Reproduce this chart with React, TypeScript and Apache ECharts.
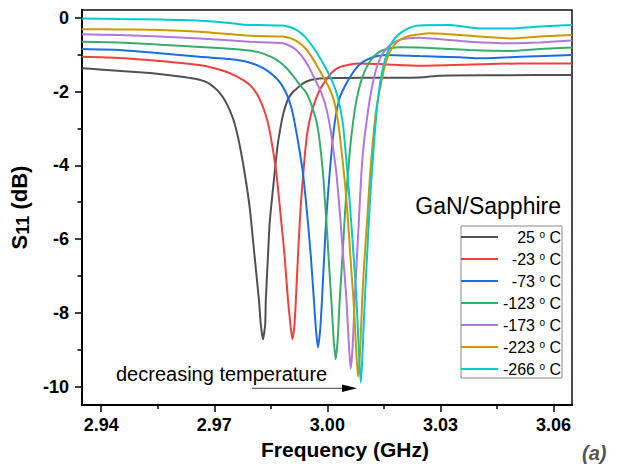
import React, { useEffect, useRef } from "react";
import * as echarts from "echarts";

const FONT = "'Liberation Sans', Arial, Helvetica, sans-serif";

const seriesNames = ["25 ° C", "-23 ° C", "-73 ° C", "-123 ° C", "-173 ° C", "-223 ° C", "-266 ° C"];
const seriesColors = ["#515151", "#F14040", "#1A6FDF", "#37AD6B", "#B177DE", "#CC9900", "#00CBCC"];

const xTickValues = [2.94, 2.97, 3.0, 3.03, 3.06];
const xMinorTickValues = [2.955, 2.985, 3.015, 3.045];
const yTickValues = [0, -2, -4, -6, -8, -10];
const yMinorTickValues = [-1, -3, -5, -7, -9];

const X_MIN = 2.9349;
const X_MAX = 3.0649;
const Y_MIN = -10.5;
const Y_MAX = 0.21;

// [frequency (GHz), S11 (dB)]
const curve25 = [
  [2.9348, -1.37], [2.93955, -1.4], [2.95283, -1.5], [2.96079, -1.59], [2.96345, -1.63], [2.9661, -1.68],
  [2.96822, -1.76], [2.97008, -1.9], [2.97141, -2.04], [2.97274, -2.23], [2.97407, -2.5], [2.97539, -2.87],
  [2.97672, -3.45], [2.97805, -4.21], [2.97937, -5.13], [2.9807, -6.48], [2.98184, -7.65], [2.98235, -8.33],
  [2.9829, -8.72], [2.98349, -8.33], [2.98367, -7.65], [2.98423, -6.48], [2.98469, -5.56], [2.98601, -4.21],
  [2.98681, -3.45], [2.98779, -2.85], [2.98841, -2.56], [2.9892, -2.3], [2.99, -2.13], [2.99079, -2.02],
  [2.99177, -1.93], [2.99291, -1.83], [2.99424, -1.74], [2.99583, -1.68], [2.99796, -1.645], [3.00327, -1.635],
  [3.00858, -1.63], [3.02451, -1.62], [3.02982, -1.57], [3.04575, -1.56], [3.0649, -1.55],
];
const curveM23 = [
  [2.9348, -1.06], [2.94486, -1.09], [2.95548, -1.17], [2.9661, -1.28], [2.97008, -1.37], [2.97274, -1.45],
  [2.97539, -1.56], [2.97778, -1.7], [2.97937, -1.82], [2.98051, -1.95], [2.9815, -2.1], [2.98243, -2.3],
  [2.98336, -2.55], [2.98423, -2.85], [2.98535, -3.45], [2.98647, -4.21], [2.9878, -5.56], [2.98867, -6.48],
  [2.98954, -7.65], [2.99021, -8.33], [2.99071, -8.72], [2.99127, -8.33], [2.99164, -7.65], [2.99219, -6.48],
  [2.99291, -5.13], [2.99397, -3.78], [2.99477, -3.05], [2.99575, -2.58], [2.99689, -2.22], [2.99796, -1.96],
  [2.99902, -1.78], [3.00035, -1.58], [3.00168, -1.44], [3.00327, -1.34], [3.0054, -1.28], [3.00858, -1.24],
  [3.01469, -1.26], [3.02451, -1.3], [3.04044, -1.26], [3.05106, -1.24], [3.0649, -1.24],
];
const curveM73 = [
  [2.9348, -0.85], [2.94486, -0.875], [2.95548, -0.96], [2.9661, -1.06], [2.97406, -1.12], [2.97805, -1.18],
  [2.9807, -1.26], [2.98283, -1.36], [2.98468, -1.48], [2.98628, -1.62], [2.9876, -1.78], [2.98866, -1.96],
  [2.98959, -2.17], [2.99052, -2.47], [2.99132, -2.85], [2.99238, -3.45], [2.99352, -4.21], [2.99424, -4.9],
  [2.99485, -5.56], [2.99562, -6.48], [2.99642, -7.65], [2.99697, -8.46], [2.9975, -8.94], [2.99809, -8.46],
  [2.99857, -7.65], [2.99915, -6.48], [2.99963, -5.56], [3.00008, -4.9], [3.00061, -4.21], [3.00127, -3.45],
  [3.00194, -2.85], [3.0026, -2.45], [3.00327, -2.17], [3.00414, -1.96], [3.00504, -1.78], [3.00618, -1.58],
  [3.0077, -1.36], [3.00911, -1.22], [3.01123, -1.1], [3.01335, -1.04], [3.01566, -1.01], [3.0245, -1.04],
  [3.03512, -1.07], [3.04043, -1.1], [3.05105, -1.06], [3.0649, -1.01],
];
const curveM123 = [
  [2.9348, -0.65], [2.94486, -0.67], [2.95548, -0.73], [2.9661, -0.79], [2.97406, -0.84], [2.97937, -0.89],
  [2.98256, -0.96], [2.98521, -1.07], [2.98734, -1.2], [2.9892, -1.37], [2.99079, -1.56], [2.99212, -1.74],
  [2.99318, -1.88], [2.99398, -1.97], [2.9949, -2.14], [2.99583, -2.38], [2.99708, -2.8], [2.99796, -3.35],
  [2.99883, -4.21], [2.99928, -4.85], [2.99973, -5.5], [3.00021, -6.3], [3.00069, -7.1], [3.00114, -7.8],
  [3.00167, -8.73], [3.0022, -9.26], [3.00273, -8.73], [3.00327, -7.65], [3.00385, -6.7], [3.00433, -5.9],
  [3.00486, -5.0], [3.00547, -4.21], [3.00606, -3.5], [3.0068, -2.85], [3.00751, -2.35], [3.00831, -1.96],
  [3.00924, -1.63], [3.0103, -1.36], [3.01168, -1.13], [3.01309, -0.98], [3.01468, -0.88], [3.01707, -0.82],
  [3.01919, -0.8], [3.0245, -0.81], [3.03778, -0.875], [3.0484, -0.9], [3.05636, -0.85], [3.0649, -0.81],
];
const curveM173 = [
  [2.9348, -0.45], [2.94486, -0.47], [2.95548, -0.51], [2.9661, -0.56], [2.97937, -0.65], [2.98813, -0.69],
  [2.99, -0.76], [2.99159, -0.86], [2.99292, -1.0], [2.99411, -1.17], [2.99531, -1.38], [2.99637, -1.6],
  [2.99743, -1.82], [2.99836, -2.02], [2.99929, -2.3], [3.00008, -2.62], [3.00075, -2.98], [3.00154, -3.55],
  [3.00239, -4.21], [3.003, -4.9], [3.00353, -5.56], [3.00406, -6.3], [3.00459, -7.0], [3.00513, -7.75],
  [3.00566, -8.8], [3.00619, -9.52], [3.00672, -8.9], [3.00725, -7.65], [3.00778, -6.6], [3.00831, -5.6],
  [3.00902, -4.21], [3.00963, -3.45], [3.01035, -2.85], [3.01096, -2.4], [3.01168, -1.96], [3.01229, -1.66],
  [3.01309, -1.35], [3.01388, -1.13], [3.01476, -0.96], [3.01601, -0.8], [3.01741, -0.68], [3.01919, -0.6],
  [3.02097, -0.56], [3.0245, -0.54], [3.03778, -0.65], [3.0484, -0.69], [3.05636, -0.67], [3.0649, -0.62],
];
const curveM223 = [
  [2.9348, -0.31], [2.94486, -0.32], [2.95548, -0.33], [2.9661, -0.38], [2.97937, -0.49], [2.98813, -0.51],
  [2.99, -0.55], [2.99159, -0.62], [2.99292, -0.71], [2.99425, -0.84], [2.99557, -1.02], [2.9969, -1.24],
  [2.99822, -1.48], [2.99955, -1.72], [3.00061, -1.93], [3.00154, -2.18], [3.0022, -2.45], [3.00281, -2.8],
  [3.00353, -3.4], [3.0044, -4.21], [3.00499, -4.85], [3.00547, -5.5], [3.006, -6.3], [3.00653, -7.1],
  [3.00706, -7.85], [3.00759, -8.9], [3.00812, -9.73], [3.00865, -9.1], [3.00924, -7.65], [3.00969, -6.8],
  [3.01014, -6.1], [3.01056, -5.45], [3.01096, -4.8], [3.01149, -4.05], [3.0121, -3.32], [3.01282, -2.6],
  [3.01343, -2.2], [3.01388, -1.96], [3.01481, -1.5], [3.01561, -1.18], [3.01654, -0.93], [3.01787, -0.72],
  [3.01919, -0.6], [3.02185, -0.49], [3.0245, -0.45], [3.02716, -0.42], [3.04043, -0.51], [3.0484, -0.56],
  [3.05636, -0.51], [3.0649, -0.47],
];
const curveM266 = [
  [2.9348, -0.02], [2.94486, -0.035], [2.95548, -0.05], [2.9661, -0.08], [2.97406, -0.14], [2.97805, -0.19],
  [2.98203, -0.2], [2.98814, -0.21], [2.99, -0.25], [2.99159, -0.32], [2.99292, -0.41], [2.99425, -0.54],
  [2.99557, -0.71], [2.9969, -0.9], [2.99822, -1.12], [2.99955, -1.36], [3.00074, -1.6], [3.0018, -1.85],
  [3.00273, -2.15], [3.0034, -2.45], [3.00414, -2.9], [3.00472, -3.5], [3.00531, -4.21], [3.00592, -5.0],
  [3.00637, -5.6], [3.00685, -6.3], [3.00733, -7.0], [3.00778, -7.75], [3.00831, -8.95], [3.00884, -9.89],
  [3.00924, -9.3], [3.00964, -8.3], [3.01003, -7.45], [3.01043, -6.65], [3.01083, -5.85], [3.01123, -5.1],
  [3.01163, -4.45], [3.01202, -3.88], [3.01242, -3.32], [3.01301, -2.6], [3.01348, -2.15], [3.01388, -1.85],
  [3.01442, -1.52], [3.01508, -1.22], [3.01588, -0.96], [3.01681, -0.73], [3.01787, -0.56], [3.01919, -0.43],
  [3.02079, -0.32], [3.02272, -0.24], [3.0245, -0.21], [3.03247, -0.2], [3.04043, -0.29], [3.0484, -0.29],
  [3.05636, -0.24], [3.0649, -0.2],
];

const curves = [curve25, curveM23, curveM73, curveM123, curveM173, curveM223, curveM266];

export default function App() {
  const ref = useRef<HTMLDivElement>(null);

  useEffect(() => {
    if (!ref.current) return;
    const chart = echarts.init(ref.current, undefined, { renderer: "svg" });

    const series = curves.map((data, i) => ({
      name: seriesNames[i],
      type: "line",
      data,
      xAxisIndex: 0,
      yAxisIndex: 0,
      showSymbol: false,
      symbol: "none",
      smooth: 0.2,
      lineStyle: { color: seriesColors[i], width: 2 },
      itemStyle: { color: seriesColors[i] },
      emphasis: { disabled: true },
    }));

    chart.setOption({
      animation: false,
      backgroundColor: "#ffffff",
      textStyle: { fontFamily: FONT },
      title: {
        text: "GaN/Sapphire",
        right: 58,
        top: 194,
        padding: 0,
        textStyle: { fontFamily: FONT, fontSize: 23, fontWeight: "normal", color: "#000" },
      },
      grid: {
        left: 82,
        right: 47,
        top: 10,
        bottom: 61,
        show: true,
        borderColor: "#111",
        borderWidth: 1.5,
        backgroundColor: "transparent",
      },
      legend: {
        data: seriesNames,
        orient: "vertical",
        left: 461,
        top: 226,
        padding: [3, 1, 1, 0],
        itemGap: 6,
        itemWidth: 37,
        itemHeight: 2,
        icon: "rect",
        borderColor: "#8a8a8a",
        borderWidth: 1,
        selectedMode: false,
        formatter: (name: string) => {
          const num = name.split(" ")[0];
          return `{t|${num} }{o|o}{t| C}`;
        },
        textStyle: {
          width: 58,
          fontFamily: FONT,
          fontSize: 16,
          color: "#000",
          rich: {
            t: { fontFamily: FONT, fontSize: 16, lineHeight: 16, color: "#000", align: "right" },
            o: { fontFamily: FONT, fontSize: 10, lineHeight: 10, color: "#000", align: "right", verticalAlign: "top" },
          },
        },
      },
      xAxis: [
        {
          type: "value",
          min: X_MIN,
          max: X_MAX,
          position: "bottom",
          name: "Frequency (GHz)",
          nameLocation: "middle",
          nameGap: 29,
          nameTextStyle: { fontFamily: FONT, fontSize: 21, fontWeight: "bold", color: "#000", padding: [0, 0, 0, 36] },
          axisLine: { show: true, onZero: false, lineStyle: { color: "#000", width: 2 } },
          axisTick: { show: true, inside: false, length: 7, customValues: xTickValues, lineStyle: { color: "#000", width: 1.5 } },
          axisLabel: {
            customValues: xTickValues,
            formatter: (v: number) => v.toFixed(2),
            fontFamily: FONT,
            fontSize: 18,
            fontWeight: "bold",
            color: "#000",
            margin: 11,
          },
          splitLine: { show: false },
        },
        {
          type: "value",
          min: X_MIN,
          max: X_MAX,
          position: "bottom",
          offset: 0,
          axisLine: { show: false, onZero: false },
          axisTick: { show: true, inside: false, length: 4, customValues: xMinorTickValues, lineStyle: { color: "#000", width: 1.5 } },
          axisLabel: { show: false },
          splitLine: { show: false },
        },
      ],
      yAxis: [
        {
          type: "value",
          min: Y_MIN,
          max: Y_MAX,
          position: "left",
          name: "{s|S}{b|11}{s| (dB)}",
          nameLocation: "middle",
          nameGap: 48,
          nameTextStyle: {
            rich: {
              s: { fontFamily: FONT, fontSize: 22, fontWeight: "bold", color: "#000", lineHeight: 22, verticalAlign: "top" },
              b: { fontFamily: FONT, fontSize: 18, fontWeight: "bold", color: "#000", lineHeight: 18, padding: [6, 0, 0, 0], verticalAlign: "top" },
            },
          },
          axisLine: { show: true, onZero: false, lineStyle: { color: "#000", width: 2 } },
          axisTick: { show: true, inside: false, length: 7, customValues: yTickValues, lineStyle: { color: "#000", width: 1.5 } },
          axisLabel: {
            customValues: yTickValues,
            formatter: (v: number) => `${v}`,
            fontFamily: FONT,
            fontSize: 18,
            fontWeight: "bold",
            color: "#000",
            margin: 13,
          },
          splitLine: { show: false },
        },
        {
          type: "value",
          min: Y_MIN,
          max: Y_MAX,
          position: "left",
          offset: 0,
          axisLine: { show: false, onZero: false },
          axisTick: { show: true, inside: false, length: 4.5, customValues: yMinorTickValues, lineStyle: { color: "#000", width: 1.5 } },
          axisLabel: { show: false },
          splitLine: { show: false },
        },
      ],
      graphic: [
        {
          type: "text",
          left: 116,
          top: 364,
          style: { text: "decreasing temperature", fontFamily: FONT, fontSize: 20, fill: "#000" },
          silent: true,
        },
        {
          type: "line",
          shape: { x1: 252, y1: 388.3, x2: 346, y2: 388.3 },
          style: { stroke: "#666", lineWidth: 1.3 },
          silent: true,
        },
        {
          type: "polygon",
          shape: { points: [[342, 384.5], [357, 388.3], [342, 392]] },
          style: { fill: "#000" },
          silent: true,
        },
        {
          type: "text",
          left: 582,
          top: 443,
          style: { text: "(a)", fontFamily: FONT, fontSize: 20, fontWeight: "bold", fontStyle: "italic", fill: "#555" },
          silent: true,
        },
      ],
      series,
    });

    return () => chart.dispose();
  }, []);

  return (
    <div
      ref={ref}
      style={{ position: "fixed", left: 0, top: 0, width: 619, height: 466, background: "#fff" }}
    />
  );
}
